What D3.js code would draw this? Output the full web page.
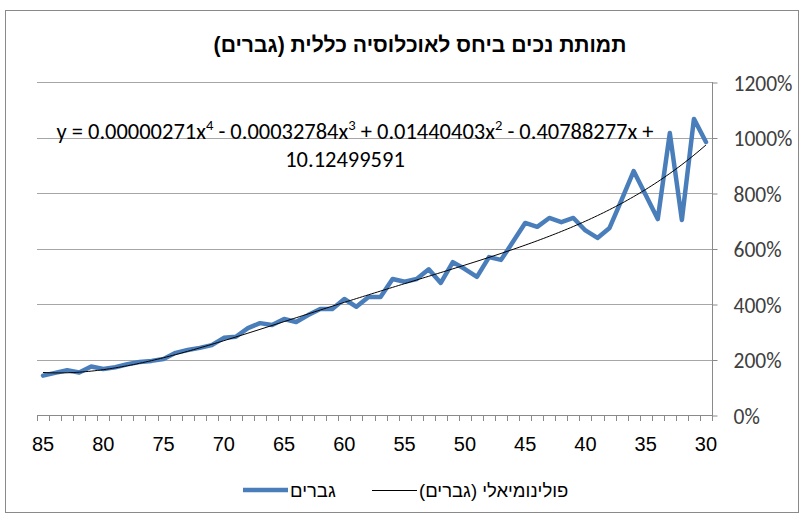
<!DOCTYPE html>
<html>
<head>
<meta charset="utf-8">
<script src="https://cdn.jsdelivr.net/npm/d3@7/dist/d3.min.js"></script>
<style>
html,body{margin:0;padding:0;background:#fff;}
svg{display:block;}
</style>
</head>
<body>
<svg id="chart" width="804" height="519"></svg>
<script>
// ---- data ----
const ages = [85,84,83,82,81,80,79,78,77,76,75,74,73,72,71,70,69,68,67,66,65,64,63,62,61,60,59,58,57,56,55,54,53,52,51,50,49,48,47,46,45,44,43,42,41,40,39,38,37,36,35,34,33,32,31,30];
const menValues = [142,152,161,153,175,166,172,183,191,195,202,224,234,242,252,278,282,313,331,324,346,335,360,382,382,418,390,425,425,490,480,490,525,476,551,526,498,569,559,625,692,678,710,695,710,665,638,674,775,879,793,706,1016,703,1067,984];
const yTicks = [0,200,400,600,800,1000,1200];
const xTickLabels = [85,80,75,70,65,60,55,50,45,40,35,30];
// trendline coefficients (as shown on chart, x = 1 at age 30)
const trendCoef = [10.12499591, -0.40788277, 0.01440403, -0.00032784, 0.00000271];

const titleText = "תמותת נכים ביחס לאוכלוסיה כללית (גברים)";
const seriesName = "גברים";
const trendName = "פולינומיאלי (גברים)";

// ---- layout ----
const svg = d3.select("#chart");
const L = 37, R = 712, T = 82, B = 415;
const arial = "'Liberation Sans', Arial, sans-serif";
const calib = "Carlito, Lato, 'Liberation Sans', sans-serif";

// scale a text's font-size so that it spans a given width
function fit(sel, target){
  const fs = +sel.attr("font-size");
  const w = sel.node().getComputedTextLength();
  if (w > 0) sel.attr("font-size", (fs*target/w).toFixed(2));
  return sel;
}

svg.append("rect").attr("x",5.5).attr("y",10.5).attr("width",793).attr("height",502)
  .attr("fill","#fff").attr("stroke","#8a8a8a").attr("stroke-width",1);

const x = d3.scalePoint().domain(ages).range([L,R]).padding(0.5);
const y = d3.scaleLinear().domain([0,1200]).range([B,T]);

// gridlines
svg.append("g").selectAll("line").data(yTicks.filter(d=>d>0)).join("line")
  .attr("x1",L).attr("x2",R).attr("y1",d=>Math.round(y(d))+0.5).attr("y2",d=>Math.round(y(d))+0.5)
  .attr("stroke","#a6a6a6").attr("stroke-width",1);

// right axis
const yAxis = d3.axisRight(y).tickValues(yTicks).tickSize(5).tickFormat(d=>d+"%").tickPadding(16);
const gy = svg.append("g").attr("transform",`translate(${R+0.5},0.5)`).call(yAxis);
gy.select(".domain").attr("stroke","#8a8a8a").attr("d",`M0,${T-0.5}V${B}`);
gy.selectAll(".tick line").attr("stroke","#8a8a8a");
gy.selectAll(".tick text").attr("font-family",calib)
  .attr("font-size",21.5).attr("fill","#404040").attr("dy","0.36em");

// bottom axis: ticks between categories
const step = x.step();
const bounds = d3.range(ages.length+1).map(i => L + i*step);
const gx = svg.append("g");
gx.append("line").attr("x1",L).attr("x2",R+0.5).attr("y1",B+0.5).attr("y2",B+0.5).attr("stroke","#8a8a8a");
gx.selectAll("line.tk").data(bounds).join("line").attr("class","tk")
  .attr("x1",d=>Math.round(d)+0.5).attr("x2",d=>Math.round(d)+0.5).attr("y1",B).attr("y2",B+6)
  .attr("stroke","#8a8a8a");
gx.selectAll("text").data(xTickLabels).join("text")
  .attr("x",d=>x(d)).attr("y",B+36).attr("text-anchor","middle")
  .attr("font-family",arial).attr("font-size",20).attr("fill","#000")
  .text(d=>d);

// series line
const line = d3.line().x((d,i)=>x(ages[i])).y(d=>y(d));
svg.append("path").datum(menValues).attr("d",line)
  .attr("fill","none").attr("stroke","#4a7ebb").attr("stroke-width",4.5)
  .attr("stroke-linejoin","round").attr("stroke-linecap","round");

// trendline
const xl = d3.scaleLinear().domain([85,30]).range([x(85),x(30)]);
const poly = a => { const t = a - 29; return 100*trendCoef.reduce((s,c,k)=>s + c*Math.pow(t,k),0); };
const trendAges = d3.range(85, 29.99, -0.25);
svg.append("path").datum(trendAges)
  .attr("d", d3.line().x(a=>xl(a)).y(a=>y(poly(a))))
  .attr("fill","none").attr("stroke","#000").attr("stroke-width",1);

// title
fit(svg.append("text").attr("x",420).attr("y",52).attr("text-anchor","middle").attr("direction","rtl")
  .attr("font-family",arial).attr("font-weight","bold").attr("font-size",18)
  .attr("fill","#000").text(titleText), 413);

// equation
const eq = svg.append("text").attr("x",355).attr("y",139).attr("text-anchor","middle")
  .attr("font-family",calib).attr("font-size",21).attr("fill","#000");
const parts = [["y = 0.00000271x",""],["4","sup"],[" - 0.00032784x",""],["3","sup"],[" + 0.01440403x",""],["2","sup"],[" - 0.40788277x +",""]];
parts.forEach(([t,k])=>{
  const ts = eq.append("tspan").text(t);
  if(k==="sup") ts.attr("font-size","0.65em").attr("baseline-shift","super");
});
fit(eq, 597);
svg.append("text").attr("x",345).attr("y",167).attr("text-anchor","middle")
  .attr("font-family",calib).attr("font-size",eq.attr("font-size")).attr("fill","#000").text("10.12499591");

// legend
const lg = svg.append("g");
const lgFont = 18.5;
lg.append("line").attr("x1",243).attr("x2",288).attr("y1",490).attr("y2",490).attr("stroke","#4a7ebb").attr("stroke-width",4.5);
lg.append("text").attr("x",290).attr("y",497).attr("text-anchor","end").attr("direction","rtl")
  .attr("font-family",arial).attr("font-size",lgFont).text(seriesName);
lg.append("line").attr("x1",372).attr("x2",417).attr("y1",490.5).attr("y2",490.5).attr("stroke","#000").attr("stroke-width",1);
lg.append("text").attr("x",419).attr("y",497).attr("text-anchor","end").attr("direction","rtl")
  .attr("font-family",arial).attr("font-size",lgFont).text(trendName);
</script>
</body>
</html>
